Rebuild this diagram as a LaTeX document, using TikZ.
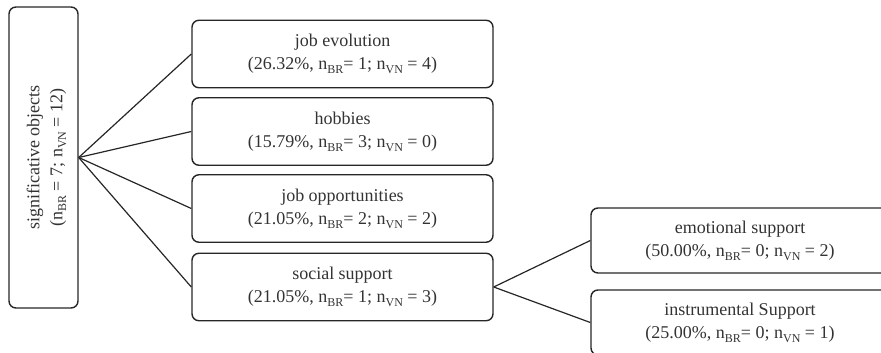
\documentclass[tikz,border=0pt]{standalone}
\usepackage{fontspec}
\setmainfont{Liberation Serif}
\newcommand{\nsub}[1]{n\raisebox{-0.45ex}{\fontsize{12}{12}\selectfont #1}}
\begin{document}
\begin{tikzpicture}[x=1pt,y=-1pt,
  box/.style={draw=black!85, line width=1.4pt, rounded corners=7pt, align=center,
    inner sep=0pt, font=\fontsize{18}{23}\selectfont, text=black!80},
  childbox/.style={box, minimum width=301pt, minimum height=67.5pt,
    execute at begin node=\rule{0pt}{20pt}},
  leafbox/.style={childbox, minimum width=298pt, minimum height=65pt},
  link/.style={draw=black!85, line width=1.2pt}]
\useasboundingbox (0,0) rectangle (881,353);
\clip (0,0) rectangle (881,353);

% root of the tree, text set vertically
\node[box, minimum width=69pt, minimum height=301pt] (root) at (43.5,157.5) {};
\node[rotate=90, align=center, font=\fontsize{18}{23}\selectfont, text=black!80] (roottext)
  at (46.5,157.5) {significative objects\\(\nsub{BR} = 7; \nsub{VN} = 12)};

% first level
\node[childbox] (job) at (342.5,54) {job evolution\\(26.32\%, \nsub{BR}= 1; \nsub{VN} = 4)};
\node[childbox] (hob) at (342.5,131.5) {hobbies\\(15.79\%, \nsub{BR}= 3; \nsub{VN} = 0)};
\node[childbox] (opp) at (342.5,208.5) {job opportunities\\(21.05\%, \nsub{BR}= 2; \nsub{VN} = 2)};
\node[childbox] (soc) at (342.5,287) {social support\\(21.05\%, \nsub{BR}= 1; \nsub{VN} = 3)};

% second level under social support
\node[leafbox] (emo) at (740,240.5) {emotional support\\(50.00\%, \nsub{BR}= 0; \nsub{VN} = 2)};
\node[leafbox] (ins) at (740,322.5) {instrumental Support\\(25.00\%, \nsub{BR}= 0; \nsub{VN} = 1)};

% connectors
\foreach \t in {job,hob,opp,soc} \draw[link] (root.east) -- (\t.west);
\foreach \t in {emo,ins} \draw[link] (soc.east) -- (\t.west);
\end{tikzpicture}
\end{document}
